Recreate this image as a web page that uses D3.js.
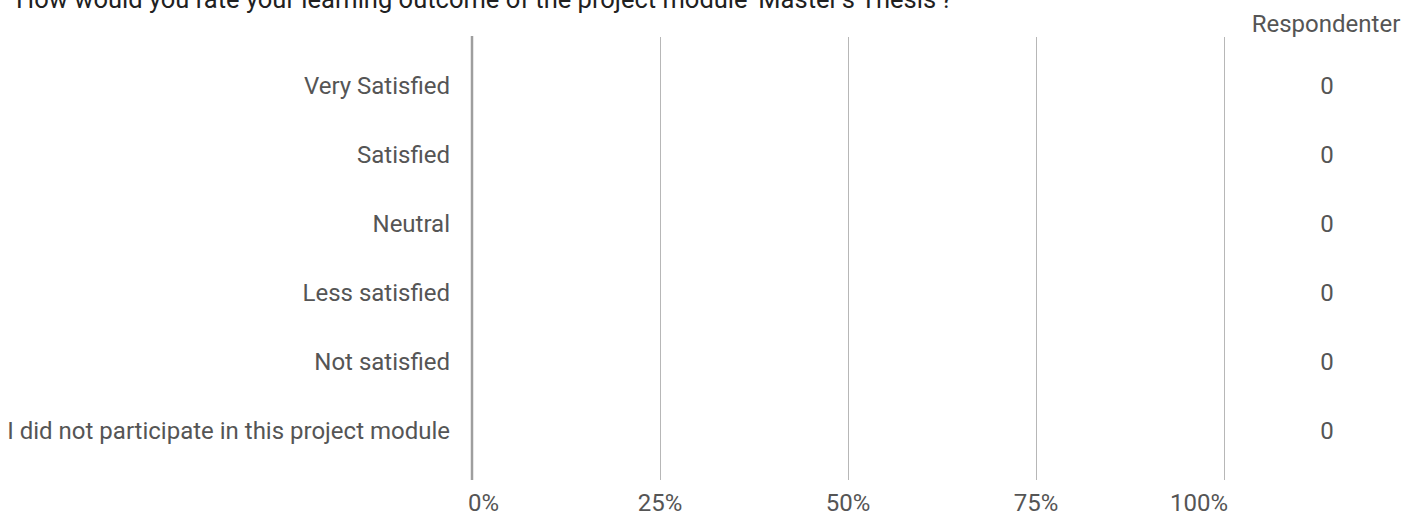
<!DOCTYPE html>
<html>
<head>
<meta charset="utf-8">
<script src="https://cdn.jsdelivr.net/npm/d3@7"></script>
<style>
  html, body { margin: 0; padding: 0; background: #fff; overflow: hidden; }
  svg { display: block; }
  text { font-family: Roboto, "Noto Sans", sans-serif; }
</style>
</head>
<body>
<svg id="chart" width="1418" height="517"></svg>
<script>
const title = "How would you rate your learning outcome of the project module 'Master's Thesis'?";
const categories = ["Very Satisfied", "Satisfied", "Neutral", "Less satisfied", "Not satisfied", "I did not participate in this project module"];
const counts = [0, 0, 0, 0, 0, 0];
const percents = [0, 0, 0, 0, 0, 0];
const xTicks = [0, 0.25, 0.5, 0.75, 1];
const countHeader = "Respondenter";

const svg = d3.select("#chart");
const plotLeft = 472, plotRight = 1224, plotTop = 37, plotBottom = 480;

const x = d3.scaleLinear().domain([0, 1]).range([plotLeft, plotRight]);
const y = d3.scalePoint().domain(categories).range([plotTop, plotBottom]).padding(0.71);

// title (partially cut off at top, as in reference)
svg.append("text")
  .attr("x", 16).attr("y", 8)
  .attr("font-size", 25.5).attr("fill", "#212121")
  .text(title);

// gridlines
svg.append("g").selectAll("line")
  .data(xTicks.slice(1))
  .join("line")
  .attr("x1", d => Math.round(x(d)) + 0.5).attr("x2", d => Math.round(x(d)) + 0.5)
  .attr("y1", plotTop).attr("y2", plotBottom)
  .attr("stroke", "#b7b7b7").attr("stroke-width", 1);

// bars (all zero)
svg.append("g").selectAll("rect")
  .data(percents)
  .join("rect")
  .attr("x", x(0))
  .attr("y", (d, i) => y(categories[i]) - 20)
  .attr("width", d => x(d) - x(0))
  .attr("height", 40)
  .attr("fill", "#4285f4");

// baseline axis
svg.append("line")
  .attr("x1", x(0)).attr("x2", x(0))
  .attr("y1", plotTop - 1).attr("y2", plotBottom)
  .attr("stroke", "#9e9e9e").attr("stroke-width", 2.5);

// x tick labels
const fmt = d3.format(".0%");
svg.append("g").selectAll("text")
  .data(xTicks)
  .join("text")
  .attr("x", (d, i) => i === 0 ? x(d) - 4 : (i === xTicks.length - 1 ? x(d) + 4 : x(d)))
  .attr("y", 511)
  .attr("text-anchor", (d, i) => i === 0 ? "start" : (i === xTicks.length - 1 ? "end" : "middle"))
  .attr("font-size", 24).attr("fill", "#555")
  .text(d => fmt(d));

// category labels
svg.append("g").selectAll("text")
  .data(categories)
  .join("text")
  .attr("x", 450)
  .attr("y", d => y(d))
  .attr("dy", "0.35em")
  .attr("text-anchor", "end")
  .attr("font-size", 24).attr("fill", "#555")
  .text(d => d);

// counts column
svg.append("text")
  .attr("x", 1326).attr("y", 32)
  .attr("text-anchor", "middle")
  .attr("font-size", 24).attr("fill", "#555")
  .text(countHeader);

svg.append("g").selectAll("text")
  .data(counts)
  .join("text")
  .attr("x", 1327)
  .attr("y", (d, i) => y(categories[i]))
  .attr("dy", "0.35em")
  .attr("text-anchor", "middle")
  .attr("font-size", 24).attr("fill", "#555")
  .text(d => d);
</script>
</body>
</html>
